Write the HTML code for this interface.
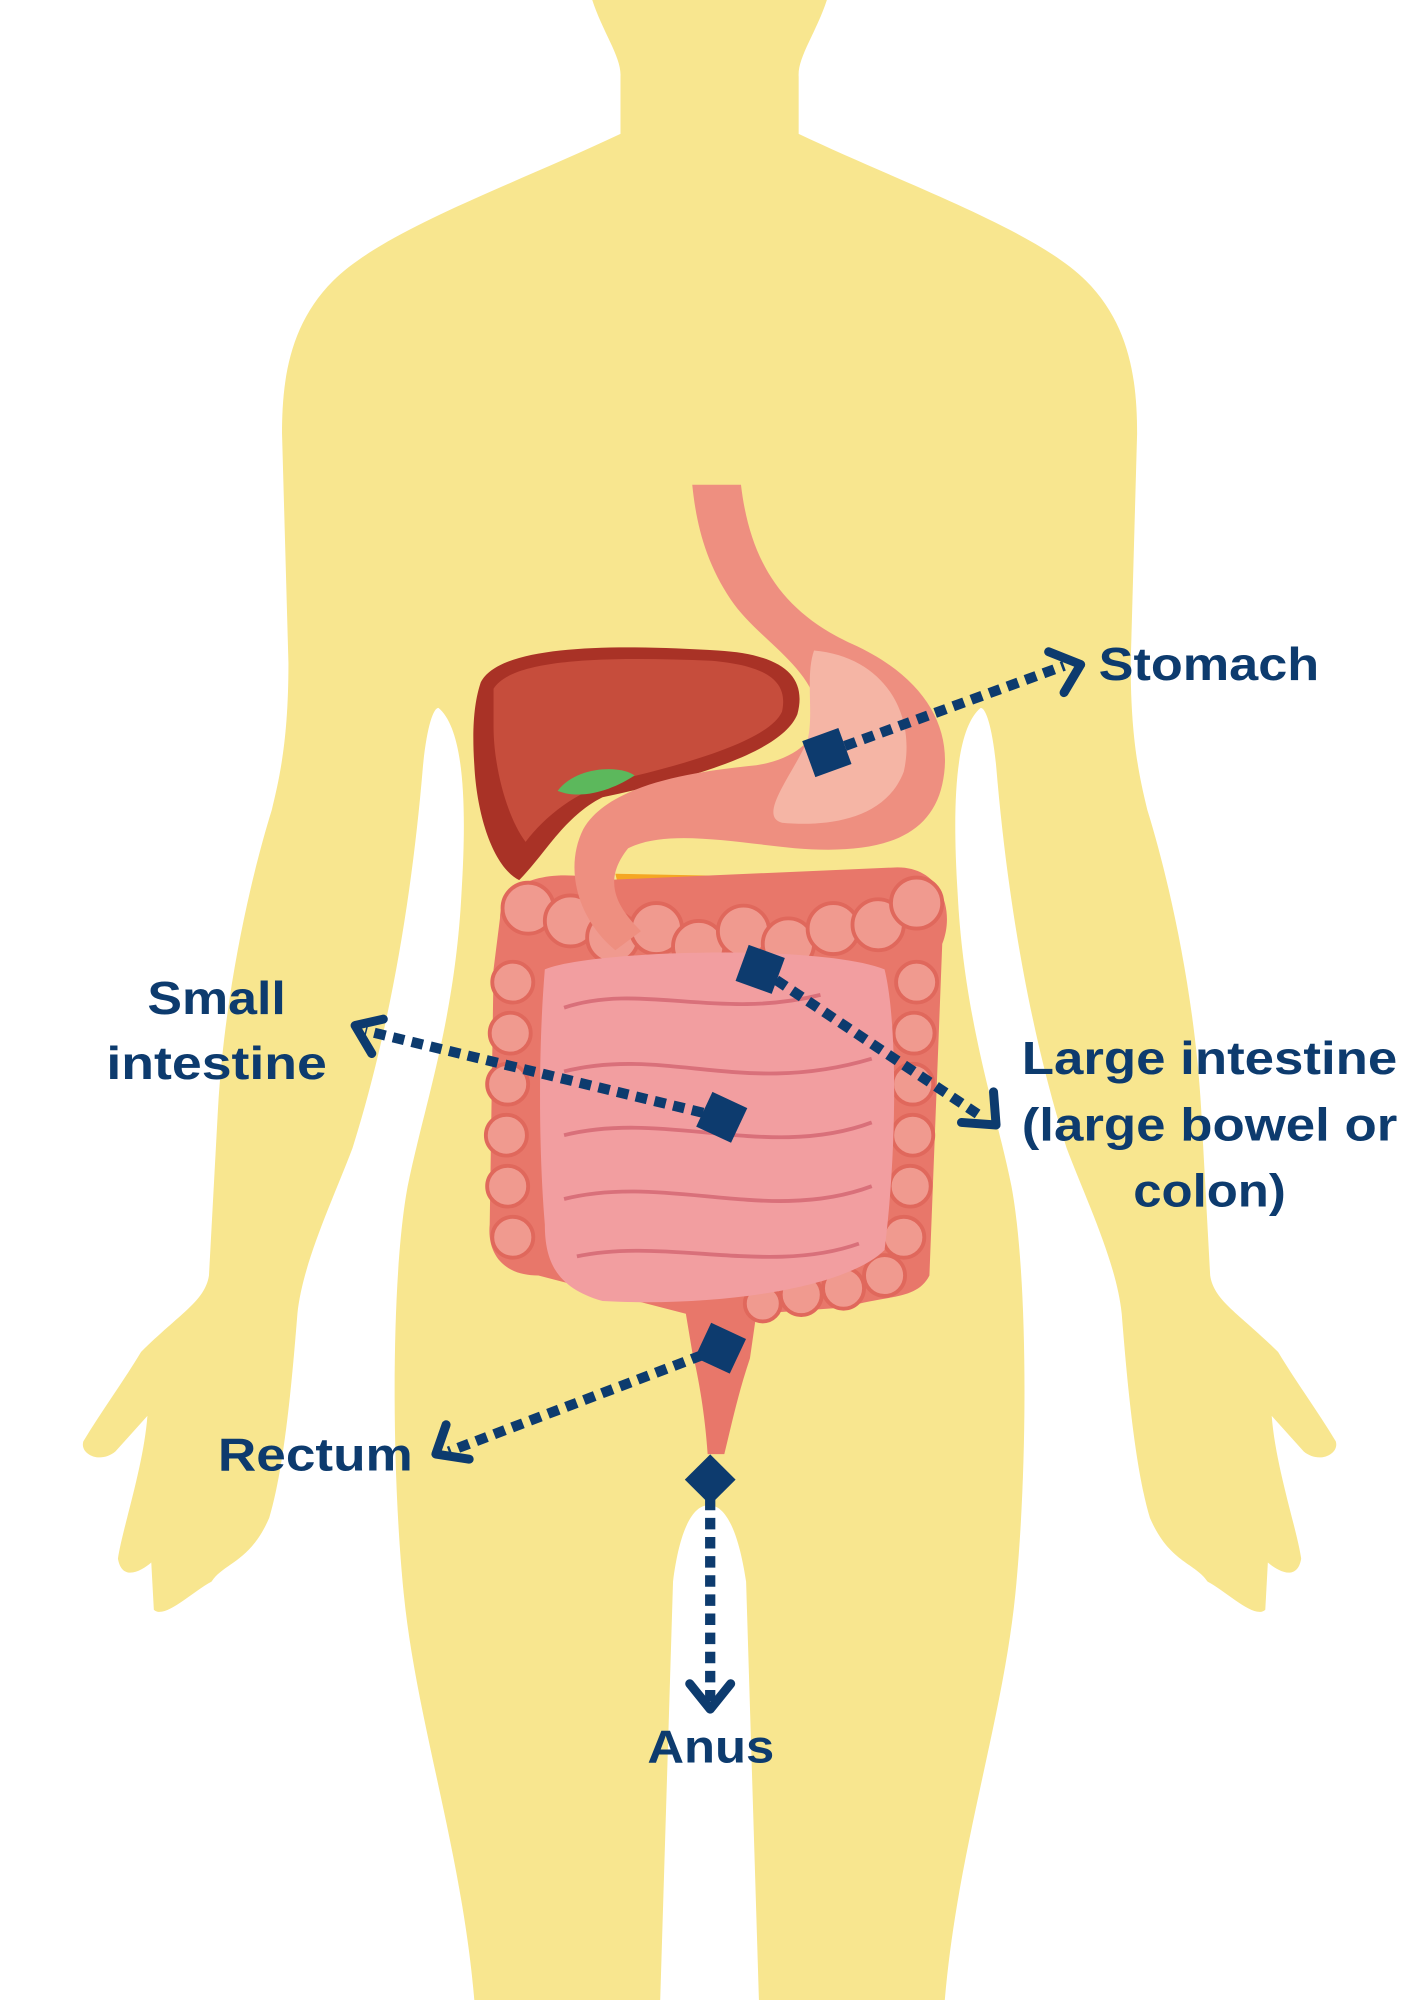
<!DOCTYPE html>
<html><head><meta charset="utf-8"><style>
html,body{margin:0;padding:0;background:#fff;}
svg{display:block;}
text{font-family:"Liberation Sans",sans-serif;font-weight:bold;fill:#0d3b6e;font-size:36px;}
</style></head><body>
<svg width="1414" height="2000" viewBox="0 0 1103 1568" preserveAspectRatio="none">
<rect width="1103" height="1568" fill="#fff"/>
<path fill="#f8e68f" d="M462,0 L645,0 C637,25 622,45 623,60 L623,105 C707,145 807,180 847,220 C882,255 887,300 887,340 L882,520 C882,580 889,610 895,635 C912,690 932,780 937,870 L944,1000 C947,1020 967,1030 997,1060 C1012,1085 1027,1105 1042,1130 C1045,1140 1029,1148 1017,1138 L992,1110 C995,1150 1012,1200 1015,1222 C1012,1240 997,1232 989,1225 L987,1262 C979,1270 957,1248 942,1240 C932,1225 912,1225 897,1190 C885,1150 879,1080 875,1030 C871,990 847,940 832,900 C807,820 787,720 777,600 C774,570 769,555 765,555 C747,570 742,620 747,700 C752,800 777,870 789,930 C802,1000 802,1150 792,1250 C782,1350 747,1450 737,1568 L592,1568 L582,1240 C576,1200 566,1180 553,1180 C540,1180 530,1200 525,1240 L515,1568 L370,1568 C360,1450 325,1350 315,1250 C305,1150 305,1000 318,930 C330,870 355,800 360,700 C365,620 360,570 342,555 C338,555 333,570 330,600 C320,720 300,820 275,900 C260,940 236,990 232,1030 C228,1080 222,1150 210,1190 C195,1225 175,1225 165,1240 C150,1248 128,1270 120,1262 L118,1225 C110,1232 95,1240 92,1222 C95,1200 112,1150 115,1110 L90,1138 C78,1148 62,1140 65,1130 C80,1105 95,1085 110,1060 C140,1030 160,1020 163,1000 L170,870 C175,780 195,690 212,635 C218,610 225,580 225,520 L220,340 C220,300 225,255 260,220 C300,180 400,145 484,105 L484,60 C485,45 470,25 462,0 Z"/>
<!-- liver -->
<path fill="#a93226" d="M375,535 C390,505 480,505 560,510 C610,513 630,530 622,560 C610,590 540,610 470,625 C440,640 425,670 405,690 C385,680 372,640 370,600 C368,570 370,550 375,535 Z"/>
<path fill="#c64d3c" d="M385,540 C400,515 480,515 555,518 C600,522 615,535 610,558 C600,580 540,598 480,612 C450,620 425,640 410,660 C395,640 385,600 385,570 Z"/>
<path fill="#f5a623" d="M480,685 L635,688 C645,695 640,705 630,707 L485,705 Z"/>
<path fill="#5cb85c" d="M435,620 C450,600 485,600 495,608 C480,618 455,628 435,620 Z"/>
<!-- large intestine frame -->
<path fill="#e8776a" d="M390,720 C390,690 430,680 470,690 L700,680 C735,680 745,715 735,740 L725,1000 C715,1020 690,1015 660,1025 L590,1030 L585,1065 C575,1095 570,1120 565,1140 L552,1140 C550,1110 545,1080 540,1060 L535,1030 L420,1000 C390,1000 380,980 382,960 L385,760 Z"/>
<g fill="#f09a8f" stroke="#e0685c" stroke-width="3">
<circle cx="412" cy="712" r="20"/><circle cx="445" cy="722" r="20"/><circle cx="478" cy="735" r="20"/><circle cx="512" cy="728" r="20"/><circle cx="545" cy="742" r="20"/><circle cx="580" cy="730" r="20"/><circle cx="615" cy="740" r="20"/><circle cx="650" cy="728" r="20"/><circle cx="685" cy="725" r="20"/><circle cx="715" cy="708" r="20"/>
<circle cx="400" cy="770" r="16"/><circle cx="398" cy="810" r="16"/><circle cx="396" cy="850" r="16"/><circle cx="395" cy="890" r="16"/><circle cx="396" cy="930" r="16"/><circle cx="400" cy="970" r="16"/>
<circle cx="715" cy="770" r="16"/><circle cx="713" cy="810" r="16"/><circle cx="712" cy="850" r="16"/><circle cx="712" cy="890" r="16"/><circle cx="710" cy="930" r="16"/><circle cx="705" cy="970" r="16"/>
<circle cx="690" cy="1000" r="16"/><circle cx="658" cy="1010" r="16"/><circle cx="625" cy="1015" r="16"/><circle cx="595" cy="1022" r="14"/>
</g>
<!-- small intestine -->
<path fill="#f29ea0" d="M425,760 C460,745 640,740 690,760 C700,800 700,900 690,980 C660,1010 560,1025 470,1020 C435,1010 425,990 425,960 C420,900 420,820 425,760 Z"/>
<g fill="none" stroke="#d9707a" stroke-width="3">
<path d="M440,790 C500,770 560,800 640,780"/><path d="M440,840 C520,820 580,860 680,830"/>
<path d="M440,890 C520,870 600,910 680,880"/><path d="M440,940 C520,920 600,960 680,930"/>
<path d="M450,985 C520,970 600,1000 670,975"/>
</g>
<!-- stomach -->
<path fill="#ee8f80" d="M540,380 L578,380 C585,440 610,480 665,505 C720,530 745,570 735,615 C725,660 680,670 620,665 C570,660 520,650 490,665 C470,690 480,710 500,730 L480,745 C450,720 440,680 455,650 C475,615 540,605 590,600 C620,595 640,580 638,555 C630,520 590,500 570,470 C550,440 543,410 540,380 Z"/>
<path fill="#f5b5a5" d="M635,510 C690,515 715,560 705,605 C690,645 640,648 610,645 C590,640 620,605 630,580 C635,560 628,530 635,510 Z"/>
<!-- connectors -->
<g stroke="#0d3b6e" stroke-width="8" fill="none" stroke-dasharray="9 6">
<path d="M645,590 L830,522"/>
<path d="M593,760 L765,875"/>
<path d="M563,876 L285,808"/>
<path d="M562,1057 L350,1138"/>
<path d="M554,1160 L554,1335"/>
</g>
<g stroke="#0d3b6e" stroke-width="7" fill="none" stroke-linecap="round" stroke-linejoin="round">
<path d="M818,511 L843,521 L830,543"/>
<path d="M775,856 L777,882 L750,880"/>
<path d="M299,799 L277,804 L290,826"/>
<path d="M348,1117 L340,1140 L366,1144"/>
<path d="M538,1320 L554,1340 L570,1320"/>
</g>
<g fill="#0d3b6e">
<rect x="630" y="575" width="30" height="30" transform="rotate(-20 645 590)"/>
<rect x="578" y="745" width="30" height="30" transform="rotate(20 593 760)"/>
<rect x="548" y="861" width="30" height="30" transform="rotate(25 563 876)"/>
<rect x="547" y="1042" width="30" height="30" transform="rotate(25 562 1057)"/>
<rect x="540" y="1146" width="28" height="28" transform="rotate(45 554 1160)"/>
</g>
<text x="857" y="533" textLength="172" lengthAdjust="spacingAndGlyphs">Stomach</text>
<text x="115" y="795" textLength="108" lengthAdjust="spacingAndGlyphs">Small</text>
<text x="83" y="846" textLength="172" lengthAdjust="spacingAndGlyphs">intestine</text>
<text x="797" y="842" textLength="293" lengthAdjust="spacingAndGlyphs">Large intestine</text>
<text x="797" y="894" textLength="293" lengthAdjust="spacingAndGlyphs">(large bowel or</text>
<text x="884" y="946" textLength="119" lengthAdjust="spacingAndGlyphs">colon)</text>
<text x="170" y="1153" textLength="152" lengthAdjust="spacingAndGlyphs">Rectum</text>
<text x="505" y="1382" textLength="99" lengthAdjust="spacingAndGlyphs">Anus</text>
</svg>
</body></html>
